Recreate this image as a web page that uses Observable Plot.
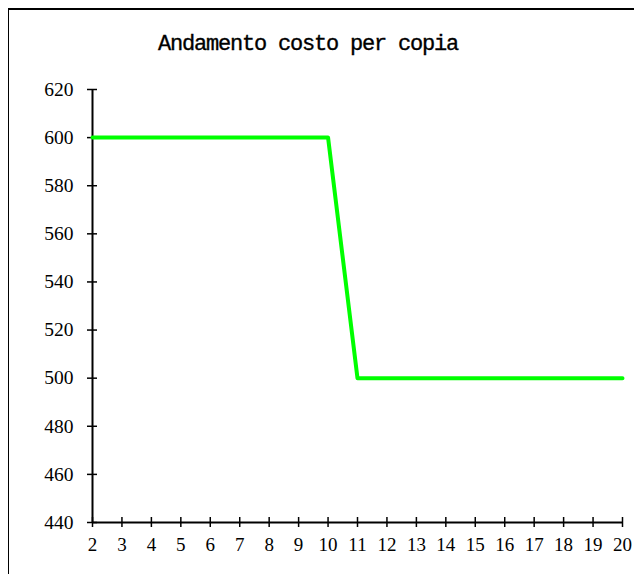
<!DOCTYPE html>
<html><head><meta charset="utf-8">
<script src="https://cdn.jsdelivr.net/npm/d3@7"></script>
<script src="https://cdn.jsdelivr.net/npm/@observablehq/plot@0.6"></script>
<style>
body{margin:0;background:#fff}
#wrap{position:relative;width:634px;height:574px;overflow:hidden}
#frame{position:absolute;left:7.5px;top:8px;width:700px;height:700px;border-top:2px solid #000;border-left:1.5px solid #000;box-sizing:border-box}
#title{position:absolute;left:0;width:616px;top:32px;text-align:center;font:22px "Liberation Mono",monospace;letter-spacing:-1.2px;line-height:26px;color:#000;-webkit-text-stroke:0.35px #000}
#plot{position:absolute;left:0;top:0}
</style>
</head><body>
<div id="wrap"><div id="frame"></div><div id="title">Andamento costo per copia</div><div id="plot"></div></div>
<script>
const titleText = "Andamento costo per copia";
const copies = [2,3,4,5,6,7,8,9,10,11,12,13,14,15,16,17,18,19,20];
const costs = [600,600,600,600,600,600,600,600,600,500,500,500,500,500,500,500,500,500,500];
const yTicks = [440,460,480,500,520,540,560,580,600,620];

document.getElementById("title").textContent = titleText;
const data = copies.map((c,i)=>({copie:c, costo:costs[i]}));

const chart = Plot.plot({
  width:634, height:574,
  marginLeft:92, marginRight:12, marginTop:89, marginBottom:52,
  x:{domain:[copies[0], copies[copies.length-1]]},
  y:{domain:[yTicks[0], yTicks[yTicks.length-1]]},
  style:{fontFamily:"'Liberation Serif', serif", fontSize:"19px", color:"#000", background:"transparent", overflow:"visible"},
  marks:[
    Plot.axisX(copies, {tickSize:10, dy:-5, tickFormat:()=>"", label:null, strokeWidth:1.5}),
    Plot.axisX(copies, {tickSize:0, tickPadding:15, label:null, fontSize:19}),
    Plot.axisY(yTicks, {tickSize:10, dx:5, tickFormat:()=>"", label:null, strokeWidth:1.5}),
    Plot.axisY(yTicks, {tickSize:0, tickPadding:19, label:null, fontSize:19.5}),
    Plot.ruleX([copies[0]], {stroke:"#000", strokeWidth:2}),
    Plot.ruleY([yTicks[0]], {stroke:"#000", strokeWidth:2}),
    Plot.line(data, {x:"copie", y:"costo", stroke:"#00ff00", strokeWidth:4})
  ]
});
document.getElementById("plot").appendChild(chart);
</script>
</body></html>
